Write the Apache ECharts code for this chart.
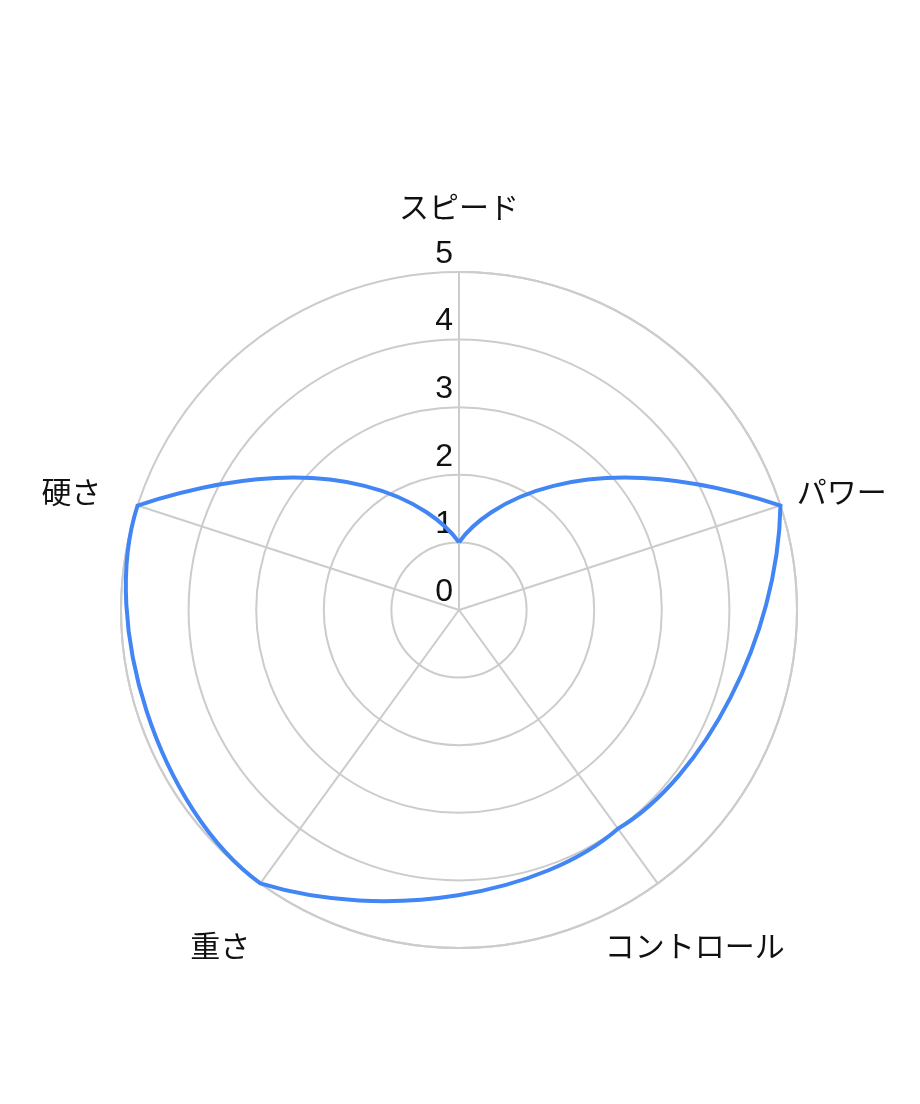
<!DOCTYPE html>
<html>
<head>
<meta charset="utf-8">
<script src="https://cdn.jsdelivr.net/npm/echarts@6/dist/echarts.min.js"></script>
<style>
  html, body { margin: 0; padding: 0; background: #fff; }
  #chart { width: 920px; height: 1104px; }
</style>
</head>
<body>
<div id="chart"></div>
<script>
// 項目名と値
var indicators = ['スピード', 'パワー', 'コントロール', '重さ', '硬さ'];
var values = [1, 5, 4, 5, 5];
var radiusTicks = [0, 1, 2, 3, 4, 5];

// ラベルの位置調整（項目ごと）
var labelPadding = {
    'スピード': [0, 0, 33, 0],
    'パワー': [0, 0, -6, 0],
    'コントロール': [33, 0, 0, -63],
    '重さ': [33, 0, 0, 0],
    '硬さ': [0, 20, -6, 0]
};

var GRID_COLOR = '#cccccc';
var CENTER = [459, 610];
var RADIUS = 338;
// 曲線の形: 半径の変化率（低い側 / 高い側）と円周方向の張り
var EASE_LOW = 0.4;
var EASE_HIGH = 1.9;
var ARC_TENSION = 0.88;

var myChart = echarts.init(document.getElementById('chart'));

// 点と点の間を角度に沿った曲線でつなぐ
function buildPath(pts, c) {
    var d = 'M' + pts[0][0] + ' ' + pts[0][1];
    for (var i = 0; i < pts.length - 1; i++) {
        var p0 = pts[i], p1 = pts[i + 1];
        var r0 = Math.hypot(p0[0] - c[0], p0[1] - c[1]);
        var r1 = Math.hypot(p1[0] - c[0], p1[1] - c[1]);
        var a0 = Math.atan2(p0[1] - c[1], p0[0] - c[0]);
        var a1 = Math.atan2(p1[1] - c[1], p1[0] - c[0]);
        var da = a1 - a0;
        while (da > Math.PI) da -= 2 * Math.PI;
        while (da <= -Math.PI) da += 2 * Math.PI;
        var dr = r1 - r0;
        var m0 = (dr > 0 ? EASE_LOW : EASE_HIGH) * dr;
        var m1 = (dr > 0 ? EASE_HIGH : EASE_LOW) * dr;
        var t0 = r0 * da * ARC_TENSION;
        var t1 = r1 * da * ARC_TENSION;
        var c0x = p0[0] + (m0 * Math.cos(a0) - t0 * Math.sin(a0)) / 3;
        var c0y = p0[1] + (m0 * Math.sin(a0) + t0 * Math.cos(a0)) / 3;
        var c1x = p1[0] - (m1 * Math.cos(a1) - t1 * Math.sin(a1)) / 3;
        var c1y = p1[1] - (m1 * Math.sin(a1) + t1 * Math.cos(a1)) / 3;
        d += ' C' + c0x + ' ' + c0y + ' ' + c1x + ' ' + c1y + ' ' + p1[0] + ' ' + p1[1];
    }
    return d;
}

myChart.setOption({
    backgroundColor: '#ffffff',
    textStyle: { fontFamily: '"Noto Sans CJK JP", "Noto Sans", sans-serif' },
    // polar 0: 項目軸と線, polar 1: 同心円と目盛り
    polar: [
        { center: CENTER, radius: RADIUS },
        { center: CENTER, radius: RADIUS }
    ],
    angleAxis: [
        {
            polarIndex: 0,
            type: 'category',
            startAngle: 90,
            boundaryGap: false,
            data: indicators.map(function (name) {
                return { value: name, textStyle: { padding: labelPadding[name] } };
            }),
            axisLine: { lineStyle: { color: GRID_COLOR, width: 2 } },
            axisTick: { show: false },
            axisLabel: { margin: 17, fontSize: 30, color: '#111111' },
            splitLine: { show: true, lineStyle: { color: GRID_COLOR, width: 2 } }
        },
        {
            polarIndex: 1,
            type: 'value',
            startAngle: 90,
            min: 0,
            max: 360,
            show: false
        }
    ],
    radiusAxis: [
        {
            polarIndex: 0,
            type: 'value',
            min: radiusTicks[0],
            max: radiusTicks[radiusTicks.length - 1],
            show: false
        },
        {
            polarIndex: 1,
            type: 'value',
            min: radiusTicks[0],
            max: radiusTicks[radiusTicks.length - 1],
            interval: 1,
            axisLine: { show: false },
            axisTick: { show: false },
            axisLabel: {
                fontSize: 32,
                color: '#111111',
                margin: 6,
                align: 'right',
                verticalAlign: 'bottom',
                padding: [0, 0, 2, 0],
                fontFamily: 'Arial, "Liberation Sans", sans-serif'
            },
            splitLine: { show: true, lineStyle: { color: GRID_COLOR, width: 2 } }
        }
    ],
    series: [
        {
            type: 'custom',
            coordinateSystem: 'polar',
            polarIndex: 0,
            silent: true,
            data: values.map(function (v, i) { return [v, indicators[i]]; }),
            renderItem: function (params, api) {
                if (params.dataIndex !== 0) {
                    return;
                }
                var pts = indicators.map(function (name, i) {
                    return api.coord([values[i], name]);
                });
                // 最初の点に戻して閉じる
                pts.push(api.coord([values[0], indicators[0]]));
                var c = api.coord([0, indicators[0]]);
                return {
                    type: 'path',
                    shape: { pathData: buildPath(pts, c) },
                    style: { stroke: '#4285f4', lineWidth: 4, fill: null }
                };
            }
        }
    ]
});
</script>
</body>
</html>
